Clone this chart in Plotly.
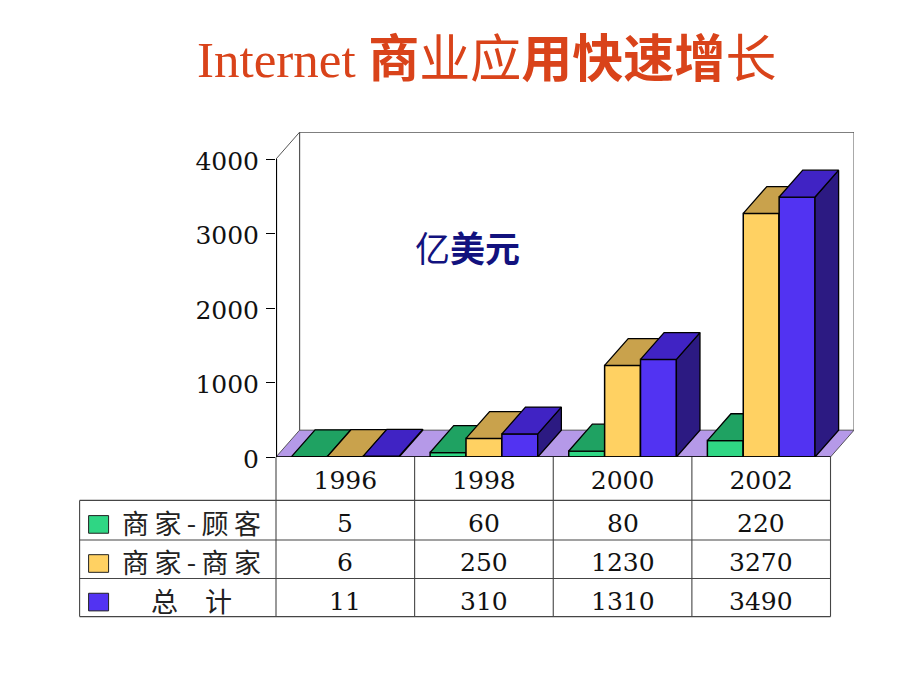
import plotly.graph_objects as go

# ---- data ----
years = ["1996", "1998", "2000", "2002"]
series_names = ["商家-顾客", "商家-商家", "总\u3000计"]
b2c = [5, 60, 80, 220]
b2b = [6, 250, 1230, 3270]
total = [11, 310, 1310, 3490]
y_ticks = [0, 1000, 2000, 3000, 4000]
title_html = "Internet <b>商</b>业应<b>用快速增</b>长"
note_html = "亿<b>美元</b>"

# ---- style ----
W, H = 920, 690
PX_L, PX_R, PX_T, PX_B = 276.0, 854.3, 132.3, 456.7
PX_CAT = 138.7
PX_UNIT = (456.7 - 159.3) / 4000
DX = 23.6 / PX_CAT
DY = 26.8 / PX_UNIT
BAR_W = 35.9 / PX_CAT
front = ["#2FD684", "#FFD162", "#5233F2"]
topc = ["#1FA262", "#C9A24C", "#4023C4"]
side = ["#187A4A", "#97783A", "#2C1A82"]
FLOOR = "#B599E8"
WALL = "#555555"
GRID = "#454545"
NUM_FONT = dict(family="DejaVu Serif", size=25, color="#111111")
CJK_FONT = dict(family="Noto Sans CJK SC", size=27, color="#222222")

series = [b2c, b2b, total]
n = len(years)
fig = go.Figure()

for k, vals in enumerate(series):
    ya = "y" if k == 0 else f"y{k+1}"
    xs = [i + 0.5 + (k - 1) * BAR_W for i in range(n)]
    sx, sy, tx, ty = [], [], [], []
    for x, v in zip(xs, vals):
        x0, x1 = x - BAR_W / 2, x + BAR_W / 2
        sx += [x1, x1, x1 + DX, x1 + DX, x1, None]
        sy += [0, v, v + DY, DY, 0, None]
        tx += [x0, x1, x1 + DX, x0 + DX, x0, None]
        ty += [v, v, v + DY, v + DY, v, None]
    fig.add_trace(go.Bar(x=xs, y=vals, width=BAR_W, yaxis=ya, name=series_names[k],
                         marker=dict(color=front[k], line=dict(color="#000000", width=1.5))))
    fig.add_trace(go.Scatter(x=sx, y=sy, yaxis=ya, mode="lines", fill="toself", fillcolor=side[k],
                             line=dict(color="#000000", width=1.3), hoverinfo="skip"))
    fig.add_trace(go.Scatter(x=tx, y=ty, yaxis=ya, mode="lines", fill="toself", fillcolor=topc[k],
                             line=dict(color="#000000", width=1.3), hoverinfo="skip"))


def px(x):
    return (x - PX_L) / (PX_R - PX_L)


def py(y):
    return (PX_B - y) / (PX_B - PX_T)


shapes = []
# floor and back wall, in data coordinates
shapes.append(dict(type="path", layer="below", xref="x", yref="y",
                   path=f"M0,0 L{DX},{DY} L{n+DX},{DY} L{n},0 Z",
                   fillcolor=FLOOR, line=dict(color="#333333", width=0.8)))
top_v = 4000 + DY
shapes.append(dict(type="path", layer="below", xref="x", yref="y",
                   path=f"M{DX},{DY} L{DX},{top_v} L{n+DX},{top_v} L{n+DX},{DY}",
                   line=dict(color=WALL, width=1.2)))
shapes.append(dict(type="line", layer="below", xref="x", yref="y", x0=0, y0=4000, x1=DX, y1=top_v,
                   line=dict(color=WALL, width=1)))
# value axis and base line
shapes.append(dict(type="line", xref="x", yref="y", x0=0, y0=0, x1=0, y1=4000,
                   line=dict(color="#000000", width=2.2)))
shapes.append(dict(type="line", xref="x", yref="y", x0=0, y0=0, x1=n, y1=0,
                   line=dict(color="#000000", width=1.6)))


def line(x0, y0, x1, y1):
    shapes.append(dict(type="line", xref="paper", yref="paper",
                       x0=px(x0), y0=py(y0), x1=px(x1), y1=py(y1),
                       line=dict(color=GRID, width=1.1)))


TAB_L = 79.5
rows = [500.0, 539.5, 578.0, 616.0]
cols = [PX_L + PX_CAT * i for i in range(n + 1)]
for y in rows:
    line(TAB_L, y, cols[-1], y)
line(TAB_L, rows[0], TAB_L, rows[-1])
for x in cols:
    line(x, PX_B, x, rows[-1])

anns = []
row_centers = [523, 562, 600.5]
for k, vals in enumerate(series):
    yc = row_centers[k]
    shapes.append(dict(type="rect", xref="paper", yref="paper",
                       x0=px(88.5), x1=px(108.5), y0=py(yc + 1 - 8.8), y1=py(yc + 1 + 8.8),
                       fillcolor=front[k], line=dict(color="#222222", width=1)))
    name = "\u2009".join(series_names[k]) if k < 2 else series_names[k]
    anns.append(dict(xref="paper", yref="paper", x=px(191.5), y=py(yc - 1), text=name, showarrow=False,
                     xanchor="center", yanchor="middle", font=CJK_FONT))
    for i, v in enumerate(vals):
        anns.append(dict(xref="paper", yref="paper", x=px(cols[i] + PX_CAT / 2), y=py(yc), text=str(v),
                         showarrow=False, xanchor="center", yanchor="middle", font=NUM_FONT))
anns.append(dict(xref="paper", yref="paper", x=px(468), y=py(247), text=note_html, showarrow=False,
                 xanchor="center", yanchor="middle",
                 font=dict(family="Noto Sans CJK SC", size=35, color="#12127E")))

x_range = [0, (PX_R - PX_L) / PX_CAT]
y_range = [0, (PX_B - PX_T) / PX_UNIT]
fig.update_layout(
    width=W, height=H, showlegend=False, paper_bgcolor="#FFFFFF", plot_bgcolor="#FFFFFF",
    margin=dict(l=PX_L, r=W - PX_R, t=PX_T, b=H - PX_B, pad=0),
    title=dict(text=title_html, x=197 / W, xanchor="left", xref="container",
               y=1 - 59 / H, yanchor="middle", yref="container",
               font=dict(family="Liberation Serif, Noto Sans CJK SC", size=51, color="#D9431A")),
    shapes=shapes, annotations=anns,
    xaxis=dict(range=x_range, tickmode="array", tickvals=[i + 0.5 for i in range(n)], ticktext=years,
               showgrid=False, zeroline=False, showline=False, ticks="", tickfont=NUM_FONT,
               ticklabelstandoff=6),
    yaxis=dict(range=y_range, tickmode="array", tickvals=y_ticks, ticktext=[str(t) for t in y_ticks],
               showgrid=False, zeroline=False, showline=False, ticks="outside", ticklen=9,
               tickwidth=1, tickcolor="#000000", tickfont=NUM_FONT, ticklabelstandoff=2,
               ticklabelshift=2),
    yaxis2=dict(matches="y", overlaying="y", visible=False),
    yaxis3=dict(matches="y", overlaying="y", visible=False),
)
fig.write_html("out.html", post_script="document.body.style.margin='0';", config=dict(displayModeBar=False))
